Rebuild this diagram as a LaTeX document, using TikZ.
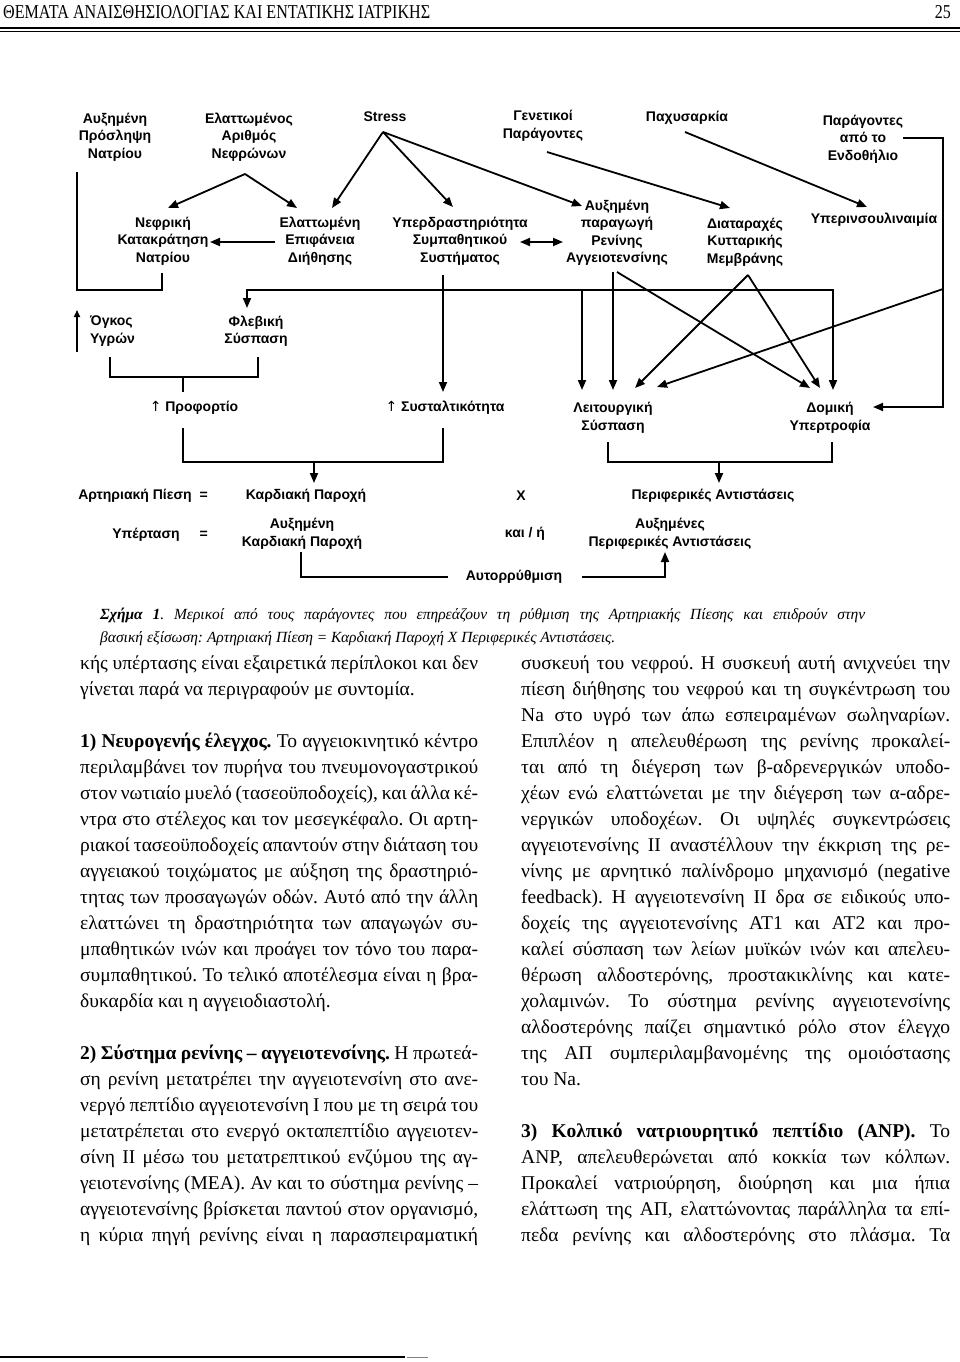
\documentclass[tikz,border=0pt]{standalone}
\usepackage{fontspec}
\setmainfont{Liberation Serif}
\newfontfamily\dsans{Liberation Sans}
\newfontfamily\dvu{DejaVu Sans}
\usetikzlibrary{arrows.meta}
\frenchspacing
\newcommand\LJ[3]{\node[bt] (#1) at (80,#2) {\makebox[398pt][s]{#3}};}
\newcommand\LL[3]{\node[bt] (#1) at (80,#2) {#3};}
\newcommand\RJ[3]{\node[bt] (#1) at (521,#2) {\makebox[429pt][s]{#3}};}
\newcommand\RL[3]{\node[bt] (#1) at (521,#2) {#3};}
\begin{document}
\begin{tikzpicture}[x=1pt,y=-1pt,
  dn/.style={font=\dsans\bfseries\fontsize{14}{17.5}\selectfont, align=center, inner sep=0pt},
  ln/.style={line width=1.8pt},
  arr/.style={line width=1.8pt,-{Triangle[length=10pt,width=8pt]}},
  darr/.style={line width=1.8pt,{Triangle[length=10pt,width=8pt]}-{Triangle[length=10pt,width=8pt]}},
  bt/.style={anchor=base west, inner sep=0pt, font=\fontsize{19.5}{26}\selectfont\frenchspacing},
  captxt/.style={anchor=base west, inner sep=0pt, font=\fontsize{15.5}{22}\selectfont\itshape\frenchspacing},
]
\useasboundingbox (0,0) rectangle (960,1362);
\fill[white] (0,0) rectangle (960,1362);

% header
\node[anchor=base west, inner sep=0pt] (head) at (3,19) {\resizebox{427pt}{13pt}{ΘΕΜΑΤΑ ΑΝΑΙΣΘΗΣΙΟΛΟΓΙΑΣ ΚΑΙ ΕΝΤΑΤΙΚΗΣ ΙΑΤΡΙΚΗΣ}};
\node[anchor=base east, inner sep=0pt] (pnum) at (951,19) {\resizebox{16pt}{13pt}{25}};
\draw[line width=1.6pt] (0,28) -- (960,28);
\draw[line width=1.1pt] (0,31.5) -- (960,31.5);

% diagram nodes
\node[dn] (auxpros) at (115,137) {Αυξημένη\\Πρόσληψη\\Νατρίου};
\node[dn] (elarith) at (249,137) {Ελαττωμένος\\Αριθμός\\Νεφρώνων};
\node[dn] (stress) at (385,117) {Stress};
\node[dn] (genet) at (543,126) {Γενετικοί\\Παράγοντες};
\node[dn] (pachy) at (687,118) {Παχυσαρκία};
\node[dn] (endoth) at (863,139) {Παράγοντες\\από το\\Ενδοθήλιο};
\node[dn] (nefkat) at (163,241) {Νεφρική\\Κατακράτηση\\Νατρίου};
\node[dn] (elepif) at (320,241) {Ελαττωμένη\\Επιφάνεια\\Διήθησης};
\node[dn] (hyper) at (460,241) {Υπερδραστηριότητα\\Συμπαθητικού\\Συστήματος};
\node[dn] (renin) at (617,233) {Αυξημένη\\παραγωγή\\Ρενίνης\\Αγγειοτενσίνης};
\node[dn] (dierax) at (745,242) {Διαταραχές\\Κυτταρικής\\Μεμβράνης};
\node[dn] (hyperins) at (874,220) {Υπερινσουλιναιμία};
\node[dn, align=left, anchor=west] (ogkos) at (90,331) {Όγκος\\Υγρών};
\node[dn] (fleb) at (256,331) {Φλεβική\\Σύσπαση};
\node[dn] (profort) at (194,408) {{\dvu\mdseries ↑} Προφορτίο};
\node[dn] (systal) at (445,408) {{\dvu\mdseries ↑} Συσταλτικότητα};
\node[dn] (leit) at (613,418) {Λειτουργική\\Σύσπαση};
\node[dn] (domiki) at (830,418) {Δομική\\Υπερτροφία};
\node[dn, anchor=east] (artpies) at (208,496) {Αρτηριακή Πίεση\hspace{8pt}=};
\node[dn] (kardpar) at (306,496) {Καρδιακή Παροχή};
\node[dn] (xnode) at (521,496) {X};
\node[dn] (perif) at (713,496) {Περιφερικές Αντιστάσεις};
\node[dn, anchor=east] (ypert) at (208,535) {Υπέρταση\hspace{20pt}=};
\node[dn] (auxkard) at (302,534) {Αυξημένη\\Καρδιακή Παροχή};
\node[dn] (kai) at (525,534) {και / ή};
\node[dn] (auxper) at (670,534) {Αυξημένες\\Περιφερικές Αντιστάσεις};
\node[dn] (autor) at (514,577) {Αυτορρύθμιση};

% connectors
\draw[arr] ([shift={(-4,37)}]elarith.center) -- ([shift={(5,-33)}]nefkat.center);
\draw[arr] ([shift={(-4,37)}]elarith.center) -- ([shift={(-23,-33)}]elepif.center);
\draw[arr] ([shift={(-2,15)}]stress.center) -- ([shift={(12,-33)}]elepif.center);
\draw[arr] ([shift={(-2,15)}]stress.center) -- ([shift={(-7,-34)}]hyper.center);
\draw[arr] ([shift={(-2,15)}]stress.center) -- ([shift={(-35,-27)}]renin.center);
\draw[arr] ([shift={(4,26)}]genet.center) -- ([shift={(-15,-34)}]dierax.center);
\draw[arr] ([shift={(-2,14)}]pachy.center) -- ([shift={(-7,-13)}]hyperins.center);
\draw[arr] ([shift={(-45,1)}]elepif.center) -- ([shift={(47,1)}]nefkat.center);
\draw[darr] ([shift={(60,1)}]hyper.center) -- ([shift={(-54,9)}]renin.center);
\draw[ln] ([shift={(-38,35)}]auxpros.center) |- ([shift={(-1,49)}]nefkat.center) -- ([shift={(-1,32)}]nefkat.center);
\draw[line width=1.6pt,-{Triangle[length=7pt,width=6pt]}] ([shift={(-13,21)}]ogkos.west) -- ([shift={(-13,-21)}]ogkos.west);
\draw[arr] ([shift={(-17,34)}]hyper.center) -- ([shift={(-2,-16)}]systal.center);
\draw[arr] ([shift={(-17,49)}]hyper.center) -| ([shift={(-9,-23)}]fleb.center);
\draw[arr] ([shift={(-17,49)}]hyper.center) -| ([shift={(3,-28)}]domiki.center);
\draw[arr] ([shift={(122,49)}]hyper.center) -- ([shift={(-31,-28)}]leit.center);
\draw[arr] ([shift={(-4,39)}]renin.center) -- ([shift={(0,-28)}]leit.center);
\draw[arr] ([shift={(0,39)}]renin.center) -- ([shift={(-20,-30)}]domiki.center);
\draw[arr] ([shift={(3,33)}]dierax.center) -- ([shift={(22,-30)}]leit.center);
\draw[arr] ([shift={(3,33)}]dierax.center) -- ([shift={(-10,-30)}]domiki.center);
\draw[arr] ([shift={(40,-1)}]endoth.center) -| ([shift={(113,-11)}]domiki.center) -- ([shift={(43,-11)}]domiki.center);
\draw[arr] ([shift={(80,150)}]endoth.center) -- ([shift={(44,-31)}]leit.center);
\draw[ln] ([shift={(20,26)}]ogkos.west) |- ([shift={(2,46)}]fleb.center) -- ([shift={(2,26)}]fleb.center);
\draw[ln] ([shift={(-11,-31)}]profort.center) -- ([shift={(-11,-16)}]profort.center);
\draw[ln] ([shift={(-11,20)}]profort.center) |- ([shift={(-2,54)}]systal.center) -- ([shift={(-2,20)}]systal.center);
\draw[arr] ([shift={(8,-34)}]kardpar.center) -- ([shift={(8,-13)}]kardpar.center);
\draw[ln] ([shift={(-5,24)}]leit.center) |- ([shift={(2,44)}]domiki.center) -- ([shift={(2,24)}]domiki.center);
\draw[arr] ([shift={(6,-34)}]perif.center) -- ([shift={(6,-13)}]perif.center);
\draw[ln] ([shift={(-1,18)}]auxkard.center) |- ([shift={(-66,0)}]autor.center);
\draw[arr] ([shift={(68,0)}]autor.center) -| ([shift={(-5,18)}]auxper.center);

% caption
\node[captxt] (cap1) at (100,619) {\makebox[765pt][s]{\textbf{Σχήμα 1}. Μερικοί από τους παράγοντες που επηρεάζουν τη ρύθμιση της Αρτηριακής Πίεσης και επιδρούν στην}};
\node[captxt] (cap2) at (100,642) {βασική εξίσωση: Αρτηριακή Πίεση = Καρδιακή Παροχή Χ Περιφερικές Αντιστάσεις.};

% left column
\LJ{l1}{669}{κής υπέρτασης είναι εξαιρετικά περίπλοκοι και δεν}
\LL{l2}{695}{γίνεται παρά να περιγραφούν με συντομία.}
\LJ{l3}{747}{\textbf{1) Νευρογενής έλεγχος.} Το αγγειοκινητικό κέντρο}
\LJ{l4}{773}{περιλαμβάνει τον πυρήνα του πνευμονογαστρικού}
\LJ{l5}{799}{στον νωτιαίο μυελό (τασεοϋποδοχείς), και άλλα κέ-}
\LJ{l6}{825}{ντρα στο στέλεχος και τον μεσεγκέφαλο. Οι αρτη-}
\LJ{l7}{851}{ριακοί τασεοϋποδοχείς απαντούν στην διάταση του}
\LJ{l8}{877}{αγγειακού τοιχώματος με αύξηση της δραστηριό-}
\LJ{l9}{903}{τητας των προσαγωγών οδών. Αυτό από την άλλη}
\LJ{l10}{929}{ελαττώνει τη δραστηριότητα των απαγωγών συ-}
\LJ{l11}{955}{μπαθητικών ινών και προάγει τον τόνο του παρα-}
\LJ{l12}{981}{συμπαθητικού. Το τελικό αποτέλεσμα είναι η βρα-}
\LL{l13}{1007}{δυκαρδία και η αγγειοδιαστολή.}
\LJ{l14}{1059}{\textbf{2) Σύστημα ρενίνης – αγγειοτενσίνης.} Η πρωτεά-}
\LJ{l15}{1085}{ση ρενίνη μετατρέπει την αγγειοτενσίνη στο ανε-}
\LJ{l16}{1111}{νεργό πεπτίδιο αγγειοτενσίνη Ι που με τη σειρά του}
\LJ{l17}{1137}{μετατρέπεται στο ενεργό οκταπεπτίδιο αγγειοτεν-}
\LJ{l18}{1163}{σίνη ΙΙ μέσω του μετατρεπτικού ενζύμου της αγ-}
\LJ{l19}{1189}{γειοτενσίνης (ΜΕΑ). Αν και το σύστημα ρενίνης –}
\LJ{l20}{1215}{αγγειοτενσίνης βρίσκεται παντού στον οργανισμό,}
\LJ{l21}{1241}{η κύρια πηγή ρενίνης είναι η παρασπειραματική}

% right column
\RJ{r1}{669}{συσκευή του νεφρού. Η συσκευή αυτή ανιχνεύει την}
\RJ{r2}{695}{πίεση διήθησης του νεφρού και τη συγκέντρωση του}
\RJ{r3}{721}{Na στο υγρό των άπω εσπειραμένων σωληναρίων.}
\RJ{r4}{747}{Επιπλέον η απελευθέρωση της ρενίνης προκαλεί-}
\RJ{r5}{773}{ται από τη διέγερση των β-αδρενεργικών υποδο-}
\RJ{r6}{799}{χέων ενώ ελαττώνεται με την διέγερση των α-αδρε-}
\RJ{r7}{825}{νεργικών υποδοχέων. Οι υψηλές συγκεντρώσεις}
\RJ{r8}{851}{αγγειοτενσίνης ΙΙ αναστέλλουν την έκκριση της ρε-}
\RJ{r9}{877}{νίνης με αρνητικό παλίνδρομο μηχανισμό (negative}
\RJ{r10}{903}{feedback). Η αγγειοτενσίνη ΙΙ δρα σε ειδικούς υπο-}
\RJ{r11}{929}{δοχείς της αγγειοτενσίνης ΑΤ1 και ΑΤ2 και προ-}
\RJ{r12}{955}{καλεί σύσπαση των λείων μυϊκών ινών και απελευ-}
\RJ{r13}{981}{θέρωση αλδοστερόνης, προστακικλίνης και κατε-}
\RJ{r14}{1007}{χολαμινών. Το σύστημα ρενίνης αγγειοτενσίνης}
\RJ{r15}{1033}{αλδοστερόνης παίζει σημαντικό ρόλο στον έλεγχο}
\RJ{r16}{1059}{της ΑΠ συμπεριλαμβανομένης της ομοιόστασης}
\RL{r17}{1085}{του Na.}
\RJ{r18}{1137}{\textbf{3) Κολπικό νατριουρητικό πεπτίδιο (ANP).} Το}
\RJ{r19}{1163}{ANP, απελευθερώνεται από κοκκία των κόλπων.}
\RJ{r20}{1189}{Προκαλεί νατριούρηση, διούρηση και μια ήπια}
\RJ{r21}{1215}{ελάττωση της ΑΠ, ελαττώνοντας παράλληλα τα επί-}
\RJ{r22}{1241}{πεδα ρενίνης και αλδοστερόνης στο πλάσμα. Τα}

% footer rule
\draw[line width=1.2pt] (0,1357) -- (405,1357);
\draw[line width=0.8pt, gray] (407,1357) -- (428,1357);
\end{tikzpicture}
\end{document}
